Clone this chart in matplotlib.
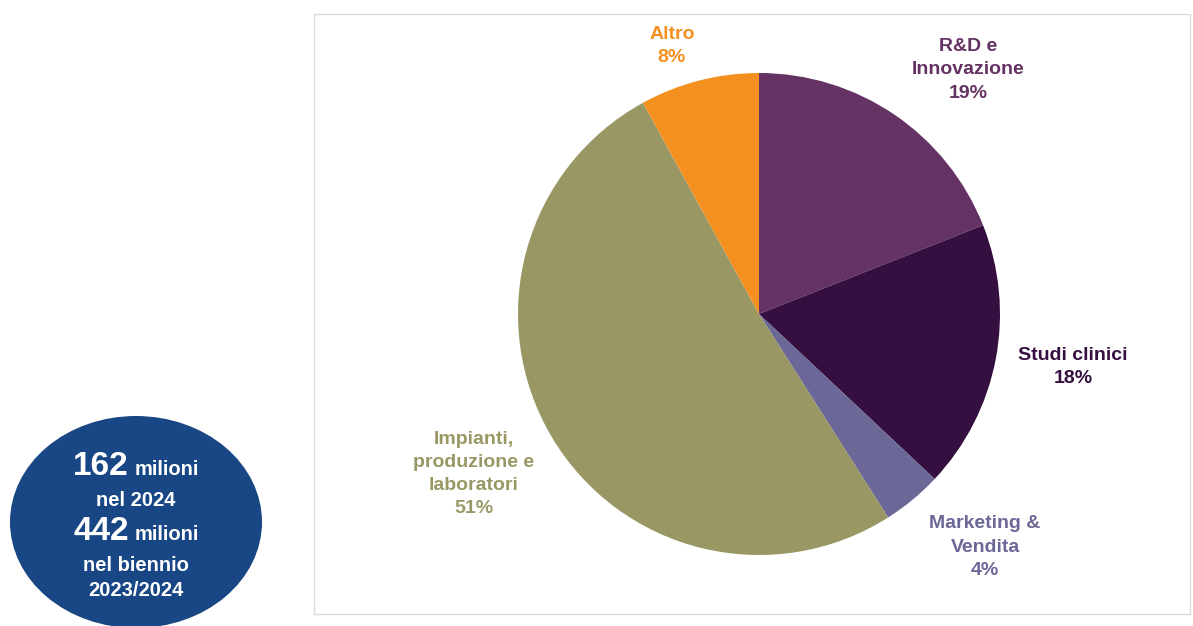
import matplotlib
matplotlib.use("Agg")
import matplotlib.pyplot as plt
from matplotlib.patches import Ellipse, Rectangle

plt.rcParams['font.family'] = ['Liberation Sans', 'DejaVu Sans']

categories = ["R&D e\nInnovazione", "Studi clinici", "Marketing &\nVendita",
              "Impianti,\nproduzione e\nlaboratori", "Altro"]
values = [19, 18, 4, 51, 8]
colors = ["#643263", "#340f40", "#6b6898", "#999865", "#f39020"]
label_colors = ["#643263", "#340f40", "#6b6898", "#999865", "#f39020"]
# label anchor positions in pixel space (x, y from top)
label_pos = [(968, 70), (1073, 367), (985, 547), (474, 474), (672, 46)]

W, H = 1193, 626
fig = plt.figure(figsize=(W / 100, H / 100), dpi=100)
ax = fig.add_axes([0, 0, 1, 1])

# frame
ax.add_patch(Rectangle((314, H - 614), 876, 600, fill=False, edgecolor="#d9d9d9", lw=1.0))

# pie
cx, cy, r = 759, H - 314, 241
ax.pie(values, colors=colors, startangle=90, counterclock=False,
       center=(cx, cy), radius=r, frame=True,
       wedgeprops=dict(linewidth=0))
ax.set_xlim(0, W)
ax.set_ylim(0, H)
ax.set_aspect('equal')
ax.axis('off')

for cat, v, col, (px, py) in zip(categories, values, label_colors, label_pos):
    ax.text(px, H - py, f"{cat}\n{v}%", ha='center', va='center', color=col,
            fontsize=14, fontweight='bold', linespacing=1.47)

# blue ellipse
ax.add_patch(Ellipse((136, H - 522), 252, 212, color="#194785", lw=0))

def line(y, big, small):
    ax.text(129, H - y, big, ha='right', va='baseline', color='white',
            fontsize=24, fontweight='bold')
    ax.text(135, H - y, small, ha='left', va='baseline', color='white',
            fontsize=14.5, fontweight='bold')

line(475, "162", "milioni")
ax.text(136, H - 506, "nel 2024", ha='center', va='baseline', color='white',
        fontsize=14.5, fontweight='bold')
line(540, "442", "milioni")
ax.text(136, H - 571, "nel biennio", ha='center', va='baseline', color='white',
        fontsize=14.5, fontweight='bold')
ax.text(136, H - 596, "2023/2024", ha='center', va='baseline', color='white',
        fontsize=14.5, fontweight='bold')

fig.savefig("out.png", dpi=100)
